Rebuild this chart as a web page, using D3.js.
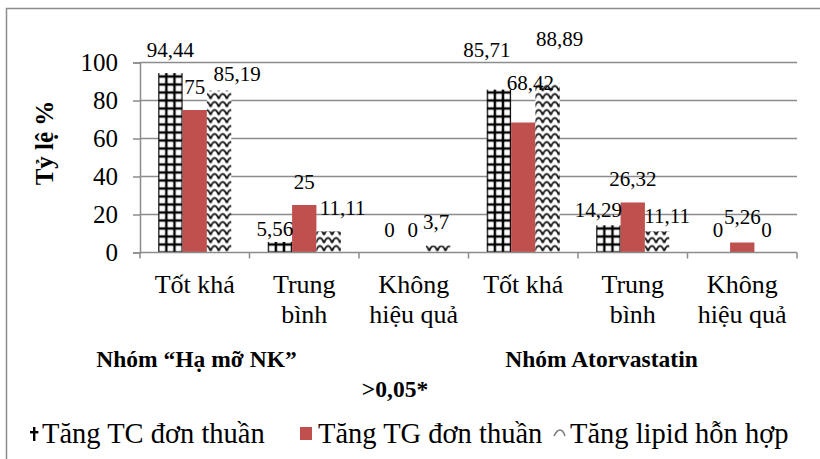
<!DOCTYPE html>
<html><head><meta charset="utf-8">
<script src="https://cdn.jsdelivr.net/npm/d3@7"></script>
<style>
body{margin:0;background:#fff}
svg{display:block}
svg text{font-family:"Liberation Serif","Times New Roman",serif}
</style>
</head><body>
<svg id="chart" width="820" height="459"></svg>
<script>
// Chart data
const categories = ["Tốt khá", "Trung bình", "Không hiệu quả", "Tốt khá", "Trung bình", "Không hiệu quả"];
const seriesNames = ["Tăng TC đơn thuần", "Tăng TG đơn thuần", "Tăng lipid hỗn hợp"];
const tcValues = [94.44, 5.56, 0, 85.71, 14.29, 0];
const tgValues = [75, 25, 0, 68.42, 26.32, 5.26];
const lipidValues = [85.19, 11.11, 3.7, 88.89, 11.11, 0];
const yTicks = [0, 20, 40, 60, 80, 100];
const yTitle = "Tỷ lệ %";
const groupNames = ["Nhóm “Hạ mỡ NK”", "Nhóm Atorvastatin"];
const pNote = ">0,05*";

// Hand-placed data label nudges [dx, dy] (series, category)
const labelNudge = {
  "0-1": [-5, 10], "0-3": [-12, -17], "0-4": [-10, 8],
  "1-2": [-1, 0], "1-3": [7, -17], "1-5": [0, -3],
  "2-0": [18, 6], "2-1": [14, 0], "2-2": [-2, 0], "2-3": [12, -22], "2-4": [10, 8]
};

const series = [tcValues, tgValues, lipidValues];
const RED = "#C0504D";
const GRID = "#8c8c8c";

const svg = d3.select("#chart");
const defs = svg.append("defs");

const plot = { left: 140, right: 797, top: 62.5, bottom: 252.5 };

const x0 = d3.scaleBand().domain(d3.range(categories.length))
  .range([plot.left, plot.right]).paddingInner(0).paddingOuter(0);
const bw = x0.bandwidth() / 4.5; // gap width 150%
const x1 = d3.scaleBand().domain([0, 1, 2])
  .range([bw * 0.75, bw * 3.75]).padding(0);
const y = d3.scaleLinear().domain([0, 100]).range([plot.bottom, plot.top]);

// outer chart border
svg.append("rect").attr("x", 6.5).attr("y", 8.5).attr("width", 830).attr("height", 470)
  .attr("fill", "none").attr("stroke", GRID).attr("stroke-width", 1.5);

// wave pattern for mixed lipid series
const wave = defs.append("pattern").attr("id", "wave")
  .attr("patternUnits", "userSpaceOnUse").attr("x", 0).attr("y", plot.bottom)
  .attr("width", 8.1).attr("height", 8);
wave.append("rect").attr("width", 8.1).attr("height", 8).attr("fill", "#fff");
wave.append("path").attr("d", "M0,6.5 Q2,1 4.05,1.5 Q6,1 8.1,6.5")
  .attr("fill", "none").attr("stroke", "#111").attr("stroke-width", 1.9);

// gridlines
svg.append("g").selectAll("line").data(yTicks.filter(d => d > 0)).join("line")
  .attr("x1", plot.left).attr("x2", plot.right)
  .attr("y1", d => y(d)).attr("y2", d => y(d))
  .attr("stroke", GRID).attr("stroke-width", 1.5);

// y axis
const yAxis = svg.append("g").attr("transform", `translate(${plot.left},0)`)
  .call(d3.axisLeft(y).tickValues(yTicks).tickSize(7).tickPadding(15).tickFormat(d3.format("d")));
yAxis.attr("font-family", null);
yAxis.select(".domain").attr("stroke", GRID).attr("stroke-width", 1.5);
yAxis.selectAll(".tick line").attr("stroke", GRID).attr("stroke-width", 1.5);
yAxis.selectAll("text").attr("font-size", 25).attr("fill", "#000").attr("dy", "0.3em");

// y title
svg.append("text").attr("transform", "translate(53,143) rotate(-90)")
  .attr("text-anchor", "middle").attr("font-weight", "bold")
  .attr("font-size", 25).text(yTitle);

// bars
const bars = [];
series.forEach((vals, s) => vals.forEach((v, c) => {
  bars.push({ s, c, v, x: x0(c) + x1(s), w: x1.bandwidth() });
}));

// per-bar grid pattern aligned to the bar edges
bars.filter(b => b.s === 0).forEach(b => {
  const tw = b.w / 3, th = 8;
  const p = defs.append("pattern").attr("id", `grid${b.c}`)
    .attr("patternUnits", "userSpaceOnUse").attr("x", b.x).attr("y", plot.bottom)
    .attr("width", tw).attr("height", th);
  p.append("rect").attr("width", tw).attr("height", th).attr("fill", "#fff");
  p.append("rect").attr("x", 0).attr("width", 1.2).attr("height", th).attr("fill", "#000");
  p.append("rect").attr("x", tw - 1.2).attr("width", 1.2).attr("height", th).attr("fill", "#000");
  p.append("rect").attr("y", 0).attr("width", tw).attr("height", 1.2).attr("fill", "#000");
  p.append("rect").attr("y", th - 1.2).attr("width", tw).attr("height", 1.2).attr("fill", "#000");
});

const fillOf = b => b.s === 0 ? `url(#grid${b.c})` : b.s === 1 ? RED : "url(#wave)";

svg.append("g").selectAll("rect").data(bars.filter(b => b.v > 0)).join("rect")
  .attr("x", b => b.x).attr("width", b => b.w)
  .attr("y", b => y(b.v)).attr("height", b => y(0) - y(b.v))
  .attr("fill", fillOf);

// x axis
const xAxisG = svg.append("g").attr("transform", `translate(0,${plot.bottom})`);
xAxisG.append("line").attr("x1", plot.left).attr("x2", plot.right)
  .attr("stroke", GRID).attr("stroke-width", 1.5);
xAxisG.selectAll("line.tk").data(d3.range(categories.length + 1)).join("line")
  .attr("class", "tk")
  .attr("x1", i => plot.left + i * x0.bandwidth()).attr("x2", i => plot.left + i * x0.bandwidth())
  .attr("y1", 0).attr("y2", 6).attr("stroke", GRID).attr("stroke-width", 1.5);

// category labels, wrapped to the band width
const catText = svg.append("g").selectAll("text").data(categories).join("text")
  .attr("x", (d, i) => x0(i) + x0.bandwidth() / 2).attr("y", 293)
  .attr("text-anchor", "middle").attr("font-size", 26);
catText.each(function (d) {
  const t = d3.select(this);
  const words = d.split(" ");
  let line = [], lines = [];
  const probe = t.append("tspan");
  words.forEach(w => {
    line.push(w);
    probe.text(line.join(" "));
    if (probe.node().getComputedTextLength() > 100 && line.length > 1) {
      line.pop(); lines.push(line.join(" ")); line = [w];
    }
  });
  lines.push(line.join(" "));
  probe.remove();
  lines.forEach((l, k) => t.append("tspan").attr("x", t.attr("x")).attr("dy", k ? 29.5 : 0).text(l));
});

// data labels
svg.append("g").selectAll("text").data(bars).join("text")
  .attr("x", b => b.x + b.w / 2 + (labelNudge[`${b.s}-${b.c}`] || [0, 0])[0])
  .attr("y", b => y(b.v) - 16 + (labelNudge[`${b.s}-${b.c}`] || [0, 0])[1])
  .attr("text-anchor", "middle").attr("font-size", 21)
  .text(b => String(b.v).replace(".", ","));

// group captions
svg.append("text").attr("x", 196.5).attr("y", 367).attr("text-anchor", "middle")
  .attr("font-weight", "bold").attr("font-size", 23.5).text(groupNames[0]);
svg.append("text").attr("x", 601.5).attr("y", 367).attr("text-anchor", "middle")
  .attr("font-weight", "bold").attr("font-size", 23.5).text(groupNames[1]);
svg.append("text").attr("x", 395).attr("y", 397).attr("text-anchor", "middle")
  .attr("font-weight", "bold").attr("font-size", 23.5).text(pNote);

// legend
const legend = svg.append("g").attr("transform", "translate(0,443)");
const legendX = [30, 300, 553];
const lg = legend.selectAll("g").data(seriesNames).join("g")
  .attr("transform", (d, i) => `translate(${legendX[i]},0)`);
lg.each(function (d, i) {
  const g = d3.select(this);
  if (i === 0) {
    g.append("rect").attr("x", 3).attr("y", -16).attr("width", 2.4).attr("height", 14).attr("fill", "#000");
    g.append("rect").attr("x", 0).attr("y", -12).attr("width", 8.4).attr("height", 2.4).attr("fill", "#000");
  } else if (i === 1) {
    g.append("rect").attr("x", 0).attr("y", -16).attr("width", 12).attr("height", 13).attr("fill", RED);
  } else {
    g.append("path").attr("d", "M1,-7 Q4,-13 7,-13 Q10,-13 12,-7")
      .attr("fill", "none").attr("stroke", "#777").attr("stroke-width", 1.4);
  }
  g.append("text").attr("x", i === 0 ? 12 : i === 1 ? 18 : 17).attr("y", 0)
    .attr("font-size", 28.5).text(d);
});
</script>
</body></html>
